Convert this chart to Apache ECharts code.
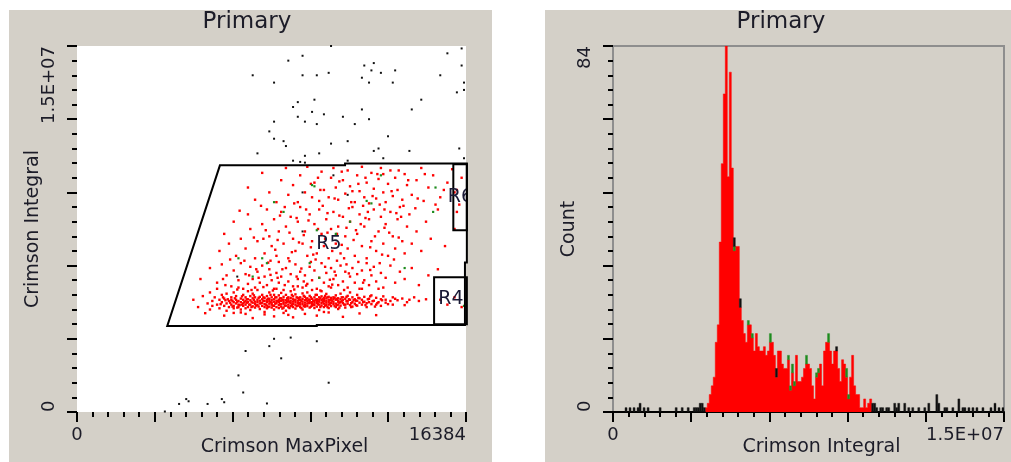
<!DOCTYPE html>
<html><head><meta charset="utf-8">
<script src="https://cdn.jsdelivr.net/npm/echarts@6/dist/echarts.min.js"></script>
<style>
html,body{margin:0;padding:0;background:#fff;}
#wrap{position:relative;width:1011px;height:462px;overflow:hidden;}
.panel{position:absolute;background:#d4d0c8;}
#chart{position:absolute;left:0;top:0;width:1011px;height:462px;}
</style></head><body>
<div id="wrap">
<div class="panel" style="left:9px;top:10px;width:483px;height:452px"></div>
<div class="panel" style="left:545px;top:10px;width:466px;height:452px"></div>
<div id="chart"></div></div>
<script>
// ---------- DATA ----------
const titles = ['Primary', 'Primary'];
const scatterXName = 'Crimson MaxPixel';
const scatterYName = 'Crimson Integral';
const histXName = 'Crimson Integral';
const histYName = 'Count';
const scatterXRange = [0, 16384];
const scatterYRange = [0, 1.5e7];
const histXRange = [0, 1.5e7];
const histYRange = [0, 84];
const scatterXTickLabels = ['0', '16384'];
const scatterYTickLabels = ['0', '1.5E+07'];
const histXTickLabels = ['0', '1.5E+07'];
const histYTickLabels = ['0', '84'];

// scatter dots: [MaxPixel in thousands, Integral in millions]
const redDots = [
[4.9,4.6],[5.1,4.3],[5.3,4.75],[5.5,4.45],[5.6,4.2],[5.6,4.9],[5.7,4.55],[5.7,4.35],[5.8,4.7],[5.9,4.4],[5.9,5.05],[6.0,4.6],[6.0,4.25],[6.1,4.5],[6.1,4.8],[6.2,4.35],[6.2,4.65],[6.3,4.45],[6.3,4.15],[6.3,4.85],[6.4,4.55],[6.4,4.3],[6.5,4.7],[6.5,4.4],[6.5,4.6],[6.6,4.25],[6.6,4.5],[6.6,4.9],[6.6,4.35],[6.7,4.6],[6.7,4.45],[6.7,4.75],[6.8,4.3],[6.8,4.55],[6.8,4.4],[6.8,5.1],[6.9,4.65],[6.9,4.2],[6.9,4.5],[7.0,4.45],[7.0,4.8],[7.0,4.35],[7.0,4.6],[7.1,4.55],[7.1,4.25],[7.1,4.7],[7.1,4.4],[7.2,4.5],[7.2,4.95],[7.2,4.3],[7.2,4.62],[7.3,4.4],[7.3,4.58],[7.3,4.18],[7.3,4.75],[7.4,4.48],[7.4,4.66],[7.4,4.33],[7.4,4.85],[7.5,4.52],[7.5,4.28],[7.5,4.7],[7.5,4.42],[7.6,4.6],[7.6,4.38],[7.6,4.5],[7.6,5.0],[7.7,4.45],[7.7,4.72],[7.7,4.22],[7.7,4.56],[7.8,4.35],[7.8,4.62],[7.8,4.48],[7.8,4.8],[7.9,4.55],[7.9,4.3],[7.9,4.68],[7.9,4.42],[7.9,4.1],
[8.0,4.5],[8.0,4.75],[8.0,4.36],[8.0,4.6],[8.0,4.25],[8.1,4.44],[8.1,4.64],[8.1,4.9],[8.1,4.32],[8.1,4.54],[8.2,4.58],[8.2,4.4],[8.2,4.7],[8.2,4.28],[8.2,4.48],[8.3,4.35],[8.3,4.52],[8.3,4.8],[8.3,4.62],[8.3,4.2],[8.4,4.46],[8.4,4.7],[8.4,4.3],[8.4,4.56],[8.4,5.05],[8.5,4.6],[8.5,4.38],[8.5,4.5],[8.5,4.78],[8.5,4.26],[8.6,4.42],[8.6,4.66],[8.6,4.55],[8.6,4.32],[8.6,4.88],[8.7,4.5],[8.7,4.28],[8.7,4.72],[8.7,4.44],[8.7,4.6],[8.8,4.36],[8.8,4.58],[8.8,4.8],[8.8,4.48],[8.8,4.15],[8.9,4.62],[8.9,4.4],[8.9,4.54],[8.9,4.7],[8.9,4.3],
[9.0,4.46],[9.0,4.68],[9.0,4.34],[9.0,4.56],[9.0,4.95],[9.1,4.52],[9.1,4.3],[9.1,4.74],[9.1,4.42],[9.1,4.62],[9.2,4.4],[9.2,4.6],[9.2,4.5],[9.2,4.24],[9.2,4.82],[9.3,4.56],[9.3,4.36],[9.3,4.68],[9.3,4.46],[9.3,5.15],[9.4,4.48],[9.4,4.7],[9.4,4.3],[9.4,4.6],[9.4,4.4],[9.5,4.64],[9.5,4.42],[9.5,4.52],[9.5,4.86],[9.5,4.2],[9.6,4.38],[9.6,4.58],[9.6,4.72],[9.6,4.48],[9.6,4.32],[9.7,4.54],[9.7,4.34],[9.7,4.66],[9.7,4.44],[9.7,4.9],[9.8,4.6],[9.8,4.46],[9.8,4.28],[9.8,4.76],[9.8,4.52],[9.9,4.42],[9.9,4.64],[9.9,4.5],[9.9,4.36],[9.9,5.0],
[10.0,4.56],[10.0,4.38],[10.0,4.7],[10.0,4.48],[10.0,4.26],[10.1,4.46],[10.1,4.62],[10.1,4.32],[10.1,4.8],[10.1,4.54],[10.2,4.52],[10.2,4.7],[10.2,4.4],[10.2,4.6],[10.2,4.18],[10.3,4.36],[10.3,4.58],[10.3,4.74],[10.3,4.46],[10.3,4.95],[10.4,4.62],[10.4,4.44],[10.4,4.3],[10.4,4.54],[10.4,4.68],[10.5,4.48],[10.5,4.66],[10.5,4.38],[10.5,4.84],[10.5,4.56],[10.6,4.4],[10.6,4.6],[10.6,4.5],[10.6,4.26],[10.6,4.72],[10.7,4.58],[10.7,4.34],[10.7,4.68],[10.7,4.46],[10.7,5.1],[10.8,4.5],[10.8,4.7],[10.8,4.42],[10.8,4.62],[10.9,4.44],[10.9,4.6],[10.9,4.3],[10.9,4.78],
[11.0,4.56],[11.0,4.4],[11.0,4.66],[11.0,4.52],[11.0,4.22],[11.1,4.62],[11.1,4.36],[11.1,4.5],[11.1,4.85],[11.2,4.46],[11.2,4.7],[11.2,4.58],[11.3,4.4],[11.3,4.64],[11.3,4.28],[11.4,4.54],[11.4,4.76],[11.4,4.44],[11.5,4.6],[11.5,4.38],[11.5,4.9],[11.6,4.5],[11.6,4.7],[11.6,4.32],[11.7,4.44],[11.7,4.62],[11.8,4.56],[11.8,4.8],[11.8,4.36],[11.9,4.48],[11.9,4.66],[12.0,4.6],[12.0,4.4],[12.0,5.05],[12.1,4.52],[12.1,4.72],[12.2,4.46],[12.2,4.3],[12.3,4.64],[12.3,4.5],[12.4,4.42],[12.4,4.78],[12.5,4.56],[12.6,4.68],[12.6,4.4],[12.7,4.5],[12.8,4.62],[12.8,4.35],[12.9,4.74],[13.0,4.48],[13.0,4.6],[13.2,4.55],[13.3,4.7],[13.3,4.4],[13.5,4.58],[13.7,4.65],[13.9,4.5],[14.2,4.7],[14.4,4.55],[14.7,4.62],[15.3,4.6],[15.6,4.4],[15.9,4.7],[16.2,4.3],
[6.05,4.42],[6.25,4.58],[6.45,4.48],[6.55,4.32],[6.65,4.66],[6.75,4.52],[6.85,4.38],[6.95,4.74],[7.05,4.5],[7.15,4.62],[7.25,4.4],[7.35,4.52],[7.45,4.6],[7.55,4.36],[7.65,4.68],[7.75,4.46],[7.85,4.56],[7.95,4.4],[8.05,4.64],[8.15,4.5],[8.25,4.36],[8.35,4.7],[8.45,4.54],[8.55,4.42],[8.65,4.6],[8.75,4.36],[8.85,4.66],[8.95,4.5],[9.05,4.38],[9.15,4.58],[9.25,4.7],[9.35,4.44],[9.45,4.56],[9.55,4.34],[9.65,4.62],[9.75,4.48],[9.85,4.7],[9.95,4.4],[10.05,4.6],[10.15,4.42],[10.25,4.66],[10.35,4.52],[10.45,4.36],[10.55,4.7],[10.65,4.44],[10.75,4.56],[10.85,4.34],[10.95,4.64],[11.05,4.48],[11.15,4.7],[11.25,4.4],[11.35,4.54],[11.45,4.62],[11.55,4.46],[11.65,4.58],[11.75,4.38],[11.85,4.68],[12.05,4.5],[12.25,4.62],[12.45,4.54],[12.65,4.46],[12.85,4.58],
[6.15,4.7],[6.35,4.62],[6.55,4.55],[6.75,4.28],[6.95,4.4],[7.15,4.48],[7.35,4.3],[7.45,4.78],[7.65,4.32],[7.85,4.7],[8.05,4.3],[8.15,4.8],[8.35,4.44],[8.55,4.66],[8.65,4.24],[8.85,4.52],[8.95,4.26],[9.05,4.8],[9.25,4.34],[9.35,4.62],[9.45,4.26],[9.55,4.76],[9.75,4.6],[9.85,4.32],[9.95,4.56],[10.05,4.8],[10.25,4.3],[10.35,4.62],[10.45,4.76],[10.55,4.3],[10.65,4.58],[10.85,4.68],[10.95,4.38],[11.05,4.28],[11.15,4.54],[11.35,4.72],[11.55,4.3],[11.75,4.56],[12.15,4.38],[12.35,4.74],[12.55,4.32],[13.1,4.42],[13.4,4.64],[13.8,4.38],[14.0,4.6],
[5.4,4.05],[6.2,3.95],[6.9,4.08],[7.4,3.85],[7.9,4.0],[8.3,3.92],[8.7,4.06],[9.1,3.88],[9.6,4.02],[10.1,3.95],[10.6,4.08],[11.2,3.9],[11.9,4.04],[12.6,3.97],[7.1,4.02],[8.9,3.98],[10.4,4.1],[6.6,4.06],
[5.2,5.45],[5.6,5.9],[5.9,5.3],[6.1,6.05],[6.3,5.6],[6.5,5.15],[6.6,5.8],[6.8,5.4],[6.9,6.1],[7.0,5.05],[7.1,5.65],[7.2,5.25],[7.3,5.95],[7.4,5.45],[7.5,5.1],[7.6,5.75],[7.7,5.3],[7.8,6.0],[7.9,5.55],[8.0,5.2],[8.1,5.85],[8.2,5.4],[8.3,5.05],[8.4,5.7],[8.5,6.15],[8.5,5.3],[8.6,5.55],[8.7,5.0],[8.8,5.9],[8.9,5.35],[9.0,5.65],[9.1,5.15],[9.2,6.05],[9.3,5.45],[9.4,5.75],[9.5,5.1],[9.6,5.6],[9.7,5.25],[9.8,5.95],[9.9,5.4],[10.0,5.8],[10.1,5.05],[10.2,5.5],[10.3,6.1],[10.4,5.3],[10.5,5.7],[10.6,5.15],[10.7,5.9],[10.8,5.45],[10.9,5.6],[11.0,5.2],[11.1,6.0],[11.2,5.35],[11.3,5.75],[11.4,5.1],[11.5,5.55],[11.6,5.9],[11.7,5.3],[11.8,5.65],[11.9,5.05],[12.0,5.8],[12.1,5.4],[12.2,6.1],[12.3,5.2],[12.4,5.6],[12.5,5.95],[12.6,5.35],[12.8,5.7],[12.9,5.1],[13.0,5.5],[13.2,6.0],[13.4,5.3],[13.6,5.75],[13.8,5.45],[14.1,5.9],[14.4,5.2],[14.8,5.6],[15.2,5.85],
[7.35,5.0],[7.85,5.12],[8.25,4.98],[8.75,5.2],[9.15,5.02],[9.65,5.18],[10.25,4.98],[10.75,5.22],[11.25,5.0],[6.75,5.02],[6.25,5.2],[12.7,5.05],
[7.05,6.2],[7.55,5.85],[8.05,6.12],[8.45,5.5],[8.95,6.18],[9.45,5.88],[9.85,6.15],[10.45,5.95],[10.95,6.2],[11.45,5.68],[11.85,6.15],[12.35,5.82],[9.25,5.55],[8.15,5.62],[10.65,5.42],[7.65,5.5],
[6.0,6.6],[6.2,7.3],[6.4,6.9],[6.6,7.8],[6.7,6.4],[6.9,7.1],[7.1,6.7],[7.2,8.1],[7.3,7.5],[7.5,6.3],[7.6,7.0],[7.8,7.7],[7.9,6.5],[8.0,8.3],[8.1,7.2],[8.2,6.8],[8.3,7.9],[8.4,6.4],[8.5,7.4],[8.6,8.2],[8.7,6.9],[8.8,7.6],[8.9,6.3],[9.0,8.0],[9.1,7.1],[9.2,6.6],[9.3,7.8],[9.4,8.4],[9.5,6.9],[9.6,7.4],[9.7,6.4],[9.8,8.1],[9.9,7.0],[10.0,7.7],[10.1,6.5],[10.2,8.3],[10.3,7.3],[10.4,6.8],[10.5,7.9],[10.6,6.3],[10.7,7.5],[10.8,8.2],[10.9,6.9],[11.0,7.6],[11.1,6.5],[11.2,8.0],[11.3,7.2],[11.4,6.7],[11.5,7.8],[11.6,8.4],[11.7,6.4],[11.8,7.3],[11.9,8.1],[12.0,6.8],[12.1,7.6],[12.2,6.3],[12.3,7.9],[12.4,7.0],[12.5,8.3],[12.6,6.6],[12.7,7.4],[12.8,8.0],[12.9,6.9],[13.0,7.7],[13.1,6.4],[13.2,8.2],[13.3,7.2],[13.4,6.7],[13.5,7.9],[13.6,8.4],[13.7,7.0],[13.8,6.5],[13.9,7.6],[14.0,8.1],[14.1,6.9],[14.3,7.4],[14.5,6.6],[14.7,7.8],[14.9,7.1],[15.2,8.3],[15.5,6.8],[15.9,7.5],
[7.45,7.15],[7.95,7.45],[8.45,7.05],[8.95,7.35],[9.25,7.95],[9.55,7.25],[9.85,6.75],[10.15,7.5],[10.45,7.1],[10.75,6.6],[11.05,8.05],[11.35,7.55],[11.65,7.05],[11.95,7.7],[12.25,8.2],[12.55,7.2],[12.85,6.45],[13.15,7.35],[13.45,8.15],[10.35,8.45],[9.65,8.3],[8.75,8.4],[11.45,8.35],[12.05,8.45],[12.75,8.5],[10.95,7.3],[11.25,6.3],[10.05,6.25],[9.05,6.55],[8.15,6.2],[7.75,8.45],[6.85,8.25],[13.75,8.45],[14.25,8.35],
[8.55,8.05],[9.15,8.55],[9.75,7.85],[10.25,9.1],[10.55,8.15],[10.85,8.75],[11.15,9.85],[11.55,8.6],[11.85,9.35],[12.15,7.95],[12.45,8.85],[12.65,9.75],[12.95,8.3],[13.25,9.05],[13.65,8.0],[13.95,9.5],[14.35,8.75],[14.65,9.75],[15.1,8.5],[15.45,9.1],[9.35,6.95],[9.95,6.45],[10.55,7.35],[11.15,6.85],[11.75,7.45],[12.35,6.75],[12.95,7.55],[13.55,7.15],[8.35,6.65],[7.85,7.1],[10.85,5.75],[11.35,6.05],[9.55,5.35],[8.65,5.85],[7.25,5.6],[12.05,5.3],[12.75,6.1],[6.45,6.25],[6.15,5.45],[13.35,6.25],
[7.2,9.2],[7.5,8.7],[7.8,9.8],[8.1,9.0],[8.4,8.6],[8.6,9.5],[8.8,10.0],[8.9,8.9],[9.1,9.3],[9.3,8.6],[9.4,9.7],[9.6,9.0],[9.7,10.05],[9.9,8.8],[10.0,9.4],[10.2,8.65],[10.3,9.85],[10.4,9.1],[10.6,8.8],[10.7,9.6],[10.8,10.0],[10.9,9.2],[11.0,8.7],[11.2,9.5],[11.3,8.95],[11.4,9.9],[11.5,9.25],[11.7,8.6],[11.8,9.7],[11.9,9.05],[12.0,10.05],[12.1,8.8],[12.2,9.4],[12.3,8.55],[12.4,9.8],[12.5,9.15],[12.6,8.75],[12.7,9.55],[12.8,10.0],[12.9,9.0],[13.0,8.6],[13.1,9.35],[13.2,9.9],[13.3,8.85],[13.4,9.6],[13.5,9.1],[13.7,8.7],[13.8,9.75],[13.9,9.3],[14.1,8.9],[14.3,9.5],[14.5,10.0],[14.6,8.65],[14.8,9.2],[15.0,9.7],[15.3,8.8],[15.6,9.4],[15.8,9.95],[16.0,9.1],[16.1,8.5],[16.2,9.6],[16.0,8.2],[15.9,9.0],
[10.15,9.6],[11.05,9.45],[12.15,9.6],[9.85,9.35],[11.6,9.05],[12.9,9.75],[13.55,9.9]
];
const greenDots = [
[12.8,9.7],[10.0,9.25],[8.3,8.6],[8.7,8.2],[10.1,7.45],[10.9,7.3],[11.5,7.8],[12.2,8.65],[12.4,8.55],[15.1,9.2],[15.0,8.2],[6.8,6.3],[7.8,6.3],[8.0,6.1],[9.8,6.1],[7.4,5.55],[10.2,5.5],[13.8,5.9],[16.3,4.35],[9.9,9.3]
];
const blackDots = [
[10.7,15.0],[8.9,14.4],[9.5,14.6],[7.4,13.8],[8.3,13.5],[9.5,13.8],[10.1,13.8],[10.6,13.9],[12.1,14.2],[12.5,14.3],[12.4,14.0],[12.8,13.9],[13.4,14.0],[12.0,13.7],[12.3,13.5],[13.3,13.5],[15.3,13.8],[15.6,14.7],[16.2,14.9],[16.2,14.2],[16.3,13.5],[16.3,13.2],[16.0,13.1],[14.5,12.8],[9.3,12.7],[10.0,12.8],[9.1,12.5],[9.9,12.3],[10.4,12.2],[9.3,12.1],[9.6,11.9],[10.1,11.8],[11.2,12.1],[12.0,12.4],[11.7,11.8],[12.3,12.0],[14.1,12.4],[8.3,11.9],[8.1,11.5],[8.3,11.2],[8.7,11.1],[8.8,10.9],[10.7,11.0],[11.4,11.1],[13.1,11.3],[12.5,10.7],[12.7,10.8],[14.0,10.7],[16.1,10.8],[7.6,10.6],[9.1,10.3],[9.6,10.5],[10.2,10.6],[9.4,10.25],[9.6,10.22],[11.4,10.3],[12.9,10.4],[16.3,10.4],
[7.1,2.5],[8.1,2.7],[8.3,3.0],[9.0,3.05],[10.1,2.9],[8.6,2.2],[6.8,1.5],[10.6,1.2],[7.0,0.8],[4.3,0.33],[4.6,0.53],[4.7,0.44],[5.5,0.33],[6.1,0.53],[6.2,0.4],[8.0,0.35],[3.7,0.02],
[9.5,9.0],[10.8,9.7],[11.4,8.9],[9.5,7.4],[6.75,5.55]
];

// gates in data units: [MaxPixel, Integral]
const gateR5 = [[3800,3.52e6],[6020,10.11e6],[11290,10.11e6],[11290,10.18e6],[16420,10.18e6],[16420,6.13e6],[16340,6.13e6],[16340,3.57e6],[10100,3.57e6],[10100,3.52e6]];
const gateR4 = [[15040,5.52e6],[16420,3.6e6]];
const gateR6 = [[15850,10.15e6],[16420,7.45e6]];
const gateLabels = [['R5',10610,6.9e6],['R4',15750,4.61e6],['R6',16150,8.79e6]];

// histogram: bins of equal width over histXRange
const histBinCount = 195;
const histRedFirstBin = 46;
const histRed = [1,2,4,6,8,16,20,39,57,73,84,54,78,56,37,38,38,24,21,18,16,20,20,17,14,18,15,14,14,15,13,14,16,16,13,8,14,14,11,10,10,12,5,9,6,13,7,7,8,10,11,11,10,6,3,8,9,11,6,14,16,16,14,11,14,14,10,7,12,11,8,3,8,13,6,4,4,1,1,3,1,2,3];
const histGreen = [[60,1],[67,1],[69,1],[78,2],[87,1],[88,1],[89,2],[90,1],[96,2],[101,1],[102,1],[107,2],[116,2],[117,1]];
const histBlack = [[6,1],[8,1],[10,1],[12,1],[13,2],[15,1],[17,1],[23,1],[31,1],[34,1],[37,1],[40,1],[41,1],[42,1],[43,2],[44,2],[45,1],[60,2],[63,2],[81,2],[111,1],[129,2],[130,2],[131,1],[133,1],[134,1],[136,1],[137,1],[140,2],[141,1],[142,2],[145,2],[147,1],[149,1],[152,1],[155,1],[157,2],[161,4],[162,2],[165,1],[166,1],[169,1],[172,3],[174,1],[175,1],[177,1],[179,1],[181,1],[184,1],[188,1],[190,2],[192,1],[194,1]];

// ---------- BUILD ----------
const FONT = 'DejaVu Sans';
const TXT = '#1c1c28';
const RED = '#ff0000', GREEN = '#1e8c1e', BLACK = '#111111';

const toData = arr => arr.map(p => [p[0] * 1000, p[1] * 1e6]);

const binW = (histXRange[1] - histXRange[0]) / histBinCount;
const bins = [];
for (let b = 0; b < histBinCount; b++) bins.push([b, 0, 0, 0]);
histRed.forEach((v, i) => { bins[histRedFirstBin + i][1] = v; });
histGreen.forEach(([b, v]) => { bins[b][2] = v; });
histBlack.forEach(([b, v]) => { bins[b][3] = v; });
const histItems = bins.filter(d => d[2] + d[3] > 0);

function endLabels(range, labels) {
  return v => (v === range[0] ? labels[0] : (Math.abs(v - range[1]) < 1e-9 * range[1] ? labels[1] : ''));
}
const tick = { show: true, length: 10, lineStyle: { color: '#000', width: 2 } };
const minor = { show: true, splitNumber: 5, length: 5, lineStyle: { color: '#000', width: 2 } };
const lblBase = { fontFamily: FONT, fontSize: 18, color: TXT };
const nameBase = { fontFamily: FONT, fontSize: 19, color: TXT };

function xAxisDef(grid, range, interval, labels, name, lineShow) {
  return {
    type: 'value', gridIndex: grid, min: range[0], max: range[1], interval: interval,
    axisLine: { show: lineShow, onZero: false, lineStyle: { color: '#000', width: 2 } },
    axisTick: tick, minorTick: minor, splitLine: { show: false }, minorSplitLine: { show: false },
    axisLabel: Object.assign({ margin: 14, formatter: endLabels(range, labels), alignMinLabel: 'center', alignMaxLabel: 'right', showMinLabel: true, showMaxLabel: true }, lblBase),
    name: name, nameLocation: 'middle', nameGap: 26, nameMoveOverlap: false,
    nameTextStyle: Object.assign({ padding: [0, 0, 0, 26] }, nameBase)
  };
}
function yAxisDef(grid, range, interval, labels, name) {
  return {
    type: 'value', gridIndex: grid, min: range[0], max: range[1], interval: interval,
    axisLine: { show: false }, axisTick: tick, minorTick: minor,
    splitLine: { show: false }, minorSplitLine: { show: false },
    axisLabel: Object.assign({ rotate: 90, margin: 19, formatter: endLabels(range, labels), alignMinLabel: 'left', alignMaxLabel: 'right', showMinLabel: true, showMaxLabel: true }, lblBase),
    name: name, nameLocation: 'middle', nameGap: 34, nameMoveOverlap: false, nameTextStyle: nameBase
  };
}

const dotSeries = (data, color, size, z) => ({
  type: 'scatter', xAxisIndex: 0, yAxisIndex: 0, data: toData(data), symbol: 'rect', symbolSize: size,
  itemStyle: { color: color, opacity: 1 }, silent: true, z: z, clip: true
});

const option = {
  animation: false,
  title: [
    { text: titles[0], left: 247, top: 11, textAlign: 'center', padding: 0, textStyle: { fontFamily: FONT, fontSize: 23, fontWeight: 'normal', color: TXT } },
    { text: titles[1], left: 781, top: 11, textAlign: 'center', padding: 0, textStyle: { fontFamily: FONT, fontSize: 23, fontWeight: 'normal', color: TXT } }
  ],
  grid: [
    { left: 77, top: 46, width: 389, height: 366, containLabel: false, outerBoundsMode: 'none', show: true, backgroundColor: '#ffffff', borderWidth: 0 },
    { left: 613, top: 46, width: 391, height: 366, containLabel: false, outerBoundsMode: 'none', show: true, backgroundColor: 'transparent', borderColor: '#8e8e8e', borderWidth: 2 }
  ],
  xAxis: [
    xAxisDef(0, scatterXRange, scatterXRange[1] / 5, scatterXTickLabels, scatterXName, false),
    xAxisDef(1, histXRange, histXRange[1] / 5, histXTickLabels, histXName, true)
  ],
  yAxis: [
    yAxisDef(0, scatterYRange, scatterYRange[1] / 5, scatterYTickLabels, scatterYName),
    yAxisDef(1, histYRange, histYRange[1] / 5, histYTickLabels, histYName)
  ],
  series: [
    dotSeries(blackDots, BLACK, 2, 2),
    dotSeries(redDots, RED, 2.4, 2),
    dotSeries(greenDots, GREEN, 2.2, 2),
    {
      type: 'custom', xAxisIndex: 0, yAxisIndex: 0, clip: false, silent: true, z: 5,
      data: [[0, 0]],
      renderItem: function (params, api) {
        const poly = gateR5.map(p => api.coord(p));
        const rect = g => { const a = api.coord(g[0]), b = api.coord(g[1]); return { type: 'rect', shape: { x: a[0], y: a[1], width: b[0] - a[0], height: b[1] - a[1] }, style: { fill: 'none', stroke: '#000', lineWidth: 2 } }; };
        return { type: 'group', children: [
          { type: 'polygon', shape: { points: poly }, style: { fill: 'none', stroke: '#000', lineWidth: 2 } },
          rect(gateR4), rect(gateR6)
        ] };
      }
    },
    {
      type: 'custom', xAxisIndex: 0, yAxisIndex: 0, clip: true, silent: true, z: 6,
      data: gateLabels.map(g => [g[1], g[2]]),
      encode: { x: 0, y: 1 },
      renderItem: function (params, api) {
        const p = api.coord([api.value(0), api.value(1)]);
        return { type: 'text', x: p[0], y: p[1], style: { text: gateLabels[params.dataIndex][0], fill: '#1a1a36', font: '19px "DejaVu Sans"', textAlign: 'center', textVerticalAlign: 'middle' } };
      }
    },
    {
      // red histogram layer as one stepped area
      type: 'custom', xAxisIndex: 1, yAxisIndex: 1, clip: true, silent: true, z: 2,
      data: [[0, 0]],
      renderItem: function (params, api) {
        const pts = [api.coord([histRedFirstBin * binW, 0])];
        histRed.forEach((v, i) => {
          const b = histRedFirstBin + i;
          pts.push(api.coord([b * binW, v]));
          pts.push(api.coord([(b + 1) * binW, v]));
        });
        pts.push(api.coord([(histRedFirstBin + histRed.length) * binW, 0]));
        return { type: 'polygon', shape: { points: pts }, style: { fill: RED, stroke: RED, lineWidth: 0.5 } };
      }
    },
    {
      // green and black layers stacked on the red counts
      type: 'custom', xAxisIndex: 1, yAxisIndex: 1, clip: true, silent: true, z: 3,
      data: histItems, encode: { x: 0, y: 1 },
      renderItem: function (params, api) {
        const b = api.value(0), r = api.value(1), g = api.value(2), k = api.value(3);
        const x0 = b * binW, x1 = (b + 1) * binW;
        const ch = [];
        const seg = (lo, hi, color) => {
          const a = api.coord([x0, hi]), c = api.coord([x1, lo]);
          ch.push({ type: 'rect', shape: { x: a[0], y: a[1], width: c[0] - a[0], height: c[1] - a[1] }, style: { fill: color, stroke: color, lineWidth: 0.4 } });
        };
        if (g) seg(r, r + g, GREEN);
        if (k) seg(r + g, r + g + k, BLACK);
        return { type: 'group', children: ch };
      }
    }
  ]
};
const chart = echarts.init(document.getElementById('chart'), null, { renderer: 'canvas' });
chart.setOption(option);
</script>
</body></html>
